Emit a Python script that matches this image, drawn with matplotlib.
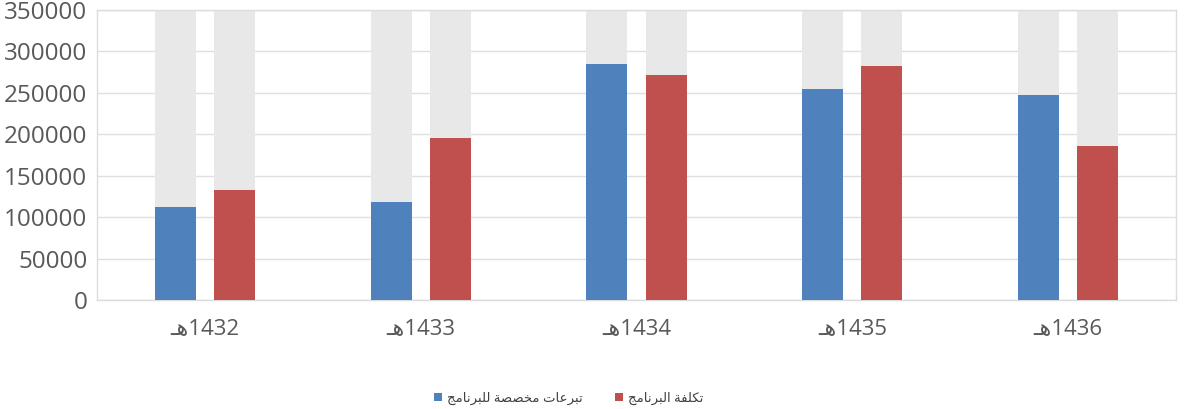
import re
import matplotlib
matplotlib.use("Agg")
import matplotlib.pyplot as plt
import numpy as np

# ---- data ----
categories = ["1432هـ", "1433هـ", "1434هـ", "1435هـ", "1436هـ"]
donations = [112000, 118000, 285000, 255000, 247000]
costs = [133000, 195000, 272000, 282000, 186000]
series_names = ["تبرعات مخصصة للبرنامج", "تكلفة البرنامج"]
y_ticks = [0, 50000, 100000, 150000, 200000, 250000, 300000, 350000]
y_max = 350000

# ---- minimal Arabic shaping + RTL ordering (matplotlib has no complex text layout) ----
FORMS = {
    "\u0627": ("\uFE8D", "\uFE8E", None, None),
    "\u0628": ("\uFE8F", "\uFE90", "\uFE91", "\uFE92"),
    "\u0629": ("\uFE93", "\uFE94", None, None),
    "\u062A": ("\uFE95", "\uFE96", "\uFE97", "\uFE98"),
    "\u062C": ("\uFE9D", "\uFE9E", "\uFE9F", "\uFEA0"),
    "\u062E": ("\uFEA5", "\uFEA6", "\uFEA7", "\uFEA8"),
    "\u0631": ("\uFEAD", "\uFEAE", None, None),
    "\u0635": ("\uFEB9", "\uFEBA", "\uFEBB", "\uFEBC"),
    "\u0639": ("\uFEC9", "\uFECA", "\uFECB", "\uFECC"),
    "\u0641": ("\uFED1", "\uFED2", "\uFED3", "\uFED4"),
    "\u0643": ("\uFED9", "\uFEDA", "\uFEDB", "\uFEDC"),
    "\u0644": ("\uFEDD", "\uFEDE", "\uFEDF", "\uFEE0"),
    "\u0645": ("\uFEE1", "\uFEE2", "\uFEE3", "\uFEE4"),
    "\u0646": ("\uFEE5", "\uFEE6", "\uFEE7", "\uFEE8"),
    "\u0647": ("\uFEE9", "\uFEEA", "\uFEEB", "\uFEEC"),
    "\u0640": ("\u0640", "\u0640", "\u0640", "\u0640"),
}


def _dual(c):
    return c in FORMS and FORMS[c][2] is not None


def shape(s):
    out = []
    for i, c in enumerate(s):
        if c not in FORMS:
            out.append(c)
            continue
        prev = s[i - 1] if i > 0 else ""
        nxt = s[i + 1] if i + 1 < len(s) else ""
        jp = _dual(prev)
        jn = _dual(c) and nxt in FORMS
        iso, fin, ini, med = FORMS[c]
        if jp and jn:
            out.append(med)
        elif jp:
            out.append(fin)
        elif jn:
            out.append(ini)
        else:
            out.append(iso)
    return "".join(out)


def rtl(s):
    shaped = shape(s)
    runs = re.findall(r"[0-9]+|[^0-9]+", shaped)
    return "".join(r if r[0].isdigit() else r[::-1] for r in reversed(runs))


plt.rcParams["font.family"] = ["Open Sans", "DejaVu Sans"]

fig = plt.figure(figsize=(11.85, 4.09), dpi=100)
ax = fig.add_axes([0.0819, 0.2665, 0.9105, 0.709])

x = np.arange(len(categories))
w = 0.19
off = 0.137
blue = "#4f81bd"
red = "#c0504d"
bg = "#e8e8e8"

ax.bar(x - off, [y_max] * len(x), w, color=bg, zorder=2)
ax.bar(x + off, [y_max] * len(x), w, color=bg, zorder=2)
ax.bar(x - off, donations, w, color=blue, zorder=3, label=rtl(series_names[0]))
ax.bar(x + off, costs, w, color=red, zorder=3, label=rtl(series_names[1]))

ax.set_xlim(-0.5, len(x) - 0.5)
ax.set_ylim(0, y_max)
ax.set_yticks(y_ticks)
ax.set_yticklabels([str(v) for v in y_ticks], fontsize=17.5, color="#595959")
ax.set_xticks(x)
ax.set_xticklabels([rtl(c) for c in categories], fontsize=16, color="#595959")
ax.tick_params(axis="both", length=0)
ax.tick_params(axis="y", pad=7)
ax.tick_params(axis="x", pad=13)

ax.yaxis.grid(True, color="#e0e0e0", linewidth=1.0, zorder=0)
ax.set_axisbelow(True)
for sp in ax.spines.values():
    sp.set_color("#dcdcdc")
    sp.set_linewidth(1.0)

leg = fig.legend(
    loc="center",
    bbox_to_anchor=(0.48, 0.027),
    ncol=2,
    frameon=False,
    fontsize=9.5,
    handlelength=0.6,
    handleheight=0.6,
    handletextpad=0.4,
    columnspacing=2.4,
)
for t in leg.get_texts():
    t.set_color("#404040")

fig.savefig("out.png", dpi=100)
